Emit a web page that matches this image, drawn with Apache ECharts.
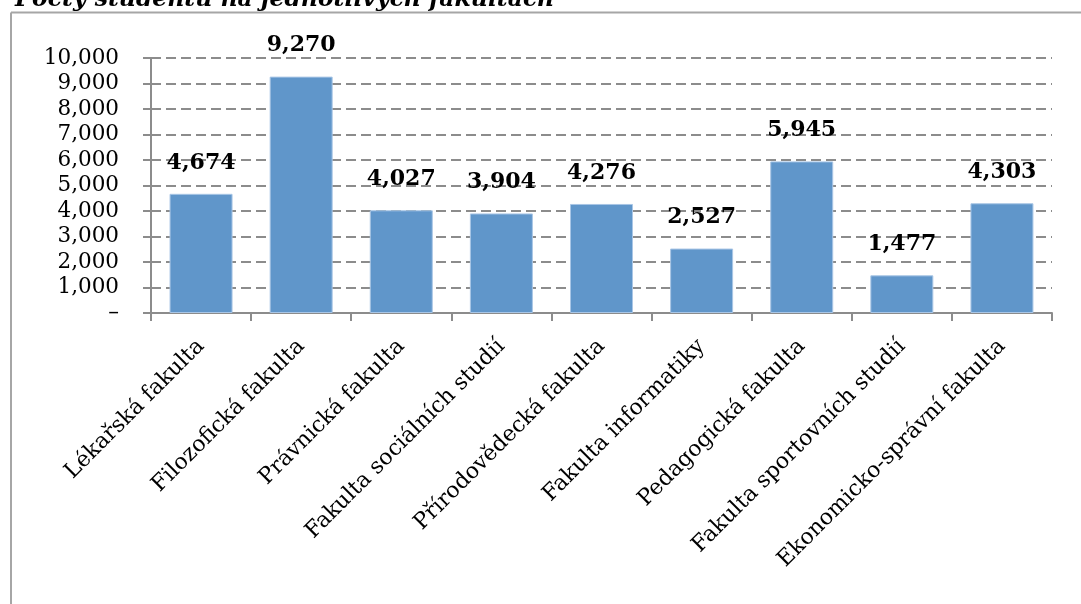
<!DOCTYPE html>
<html>
<head>
<meta charset="utf-8">
<script src="https://cdn.jsdelivr.net/npm/echarts@6/dist/echarts.min.js"></script>
<style>
html,body{margin:0;padding:0;background:#fff;}
#c{width:1081px;height:604px;}
</style>
</head>
<body>
<div id="c"></div>
<script>
const titleText = 'Počty studentů na jednotlivých fakultách';
const categories = ['Lékařská fakulta','Filozofická fakulta','Právnická fakulta','Fakulta sociálních studií','Přírodovědecká fakulta','Fakulta informatiky','Pedagogická fakulta','Fakulta sportovních studií','Ekonomicko-správní fakulta'];
const students = [4674, 9270, 4027, 3904, 4276, 2527, 5945, 1477, 4303];

const chart = echarts.init(document.getElementById('c'));
const fmt = v => v === 0 ? '–' : v.toLocaleString('en-US');
chart.setOption({
  animation: false,
  title: {
    text: titleText, left: 10, top: -17,
    textStyle: {fontFamily: 'DejaVu Serif', fontStyle: 'italic', fontWeight: 'bold', fontSize: 23.5, color: '#000'}
  },
  graphic: [
    {type: 'line', shape: {x1: 11, y1: 12.5, x2: 1081, y2: 12.5}, style: {stroke: '#a6a6a6', lineWidth: 2}},
    {type: 'line', shape: {x1: 11, y1: 12.5, x2: 11, y2: 604}, style: {stroke: '#a6a6a6', lineWidth: 2}}
  ],
  grid: {left: 151, right: 29, top: 58, bottom: 291, containLabel: false},
  xAxis: {
    type: 'category', data: categories,
    axisLine: {lineStyle: {color: '#8c8c8c', width: 2}},
    axisTick: {show: true, alignWithLabel: false, length: 8, lineStyle: {color: '#8c8c8c', width: 2}},
    axisLabel: {rotate: 45, interval: 0, margin: 30, fontFamily: 'DejaVu Serif', fontSize: 22, color: '#000'}
  },
  yAxis: {
    type: 'value', min: 0, max: 10000, interval: 1000,
    axisLine: {show: true, lineStyle: {color: '#8c8c8c', width: 2}},
    axisTick: {show: true, length: 8, lineStyle: {color: '#8c8c8c', width: 2}},
    splitLine: {show: true, lineStyle: {color: '#8c8c8c', width: 2, type: [10, 5]}},
    axisLabel: {formatter: fmt, margin: 32, fontFamily: 'DejaVu Serif', fontSize: 21.5, color: '#000'}
  },
  series: [{
    type: 'bar', data: students, barWidth: 63,
    itemStyle: {color: '#6096ca', borderColor: '#a9c6e6', borderWidth: 1},
    label: {show: true, position: 'top', distance: 20, formatter: p => fmt(p.value),
      fontFamily: 'DejaVu Serif', fontWeight: 'bold', fontSize: 22, color: '#000'}
  }]
});
</script>
</body>
</html>
